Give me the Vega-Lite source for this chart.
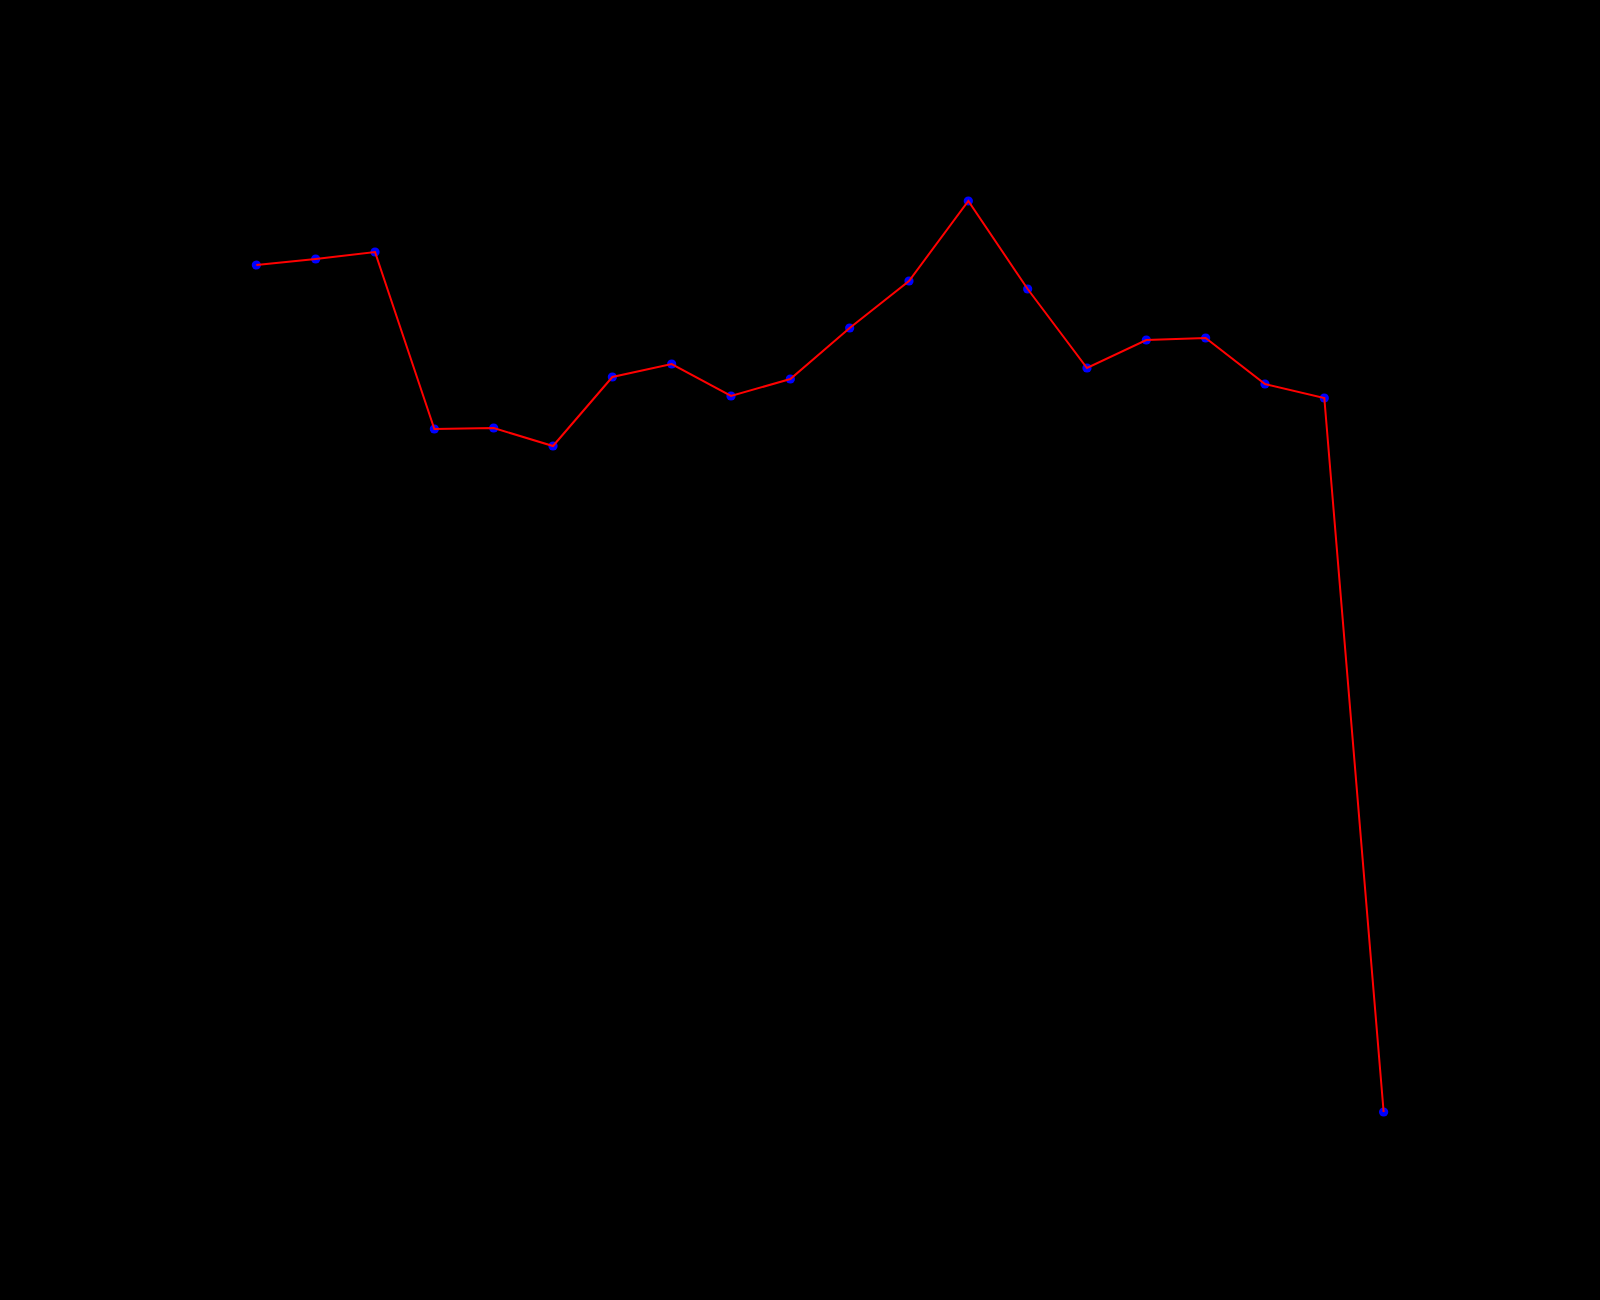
{
  "$schema": "https://vega.github.io/schema/vega-lite/v6.json",
  "autosize": "none",
  "width": 1240,
  "height": 1001,
  "padding": {"left": 200, "top": 156, "right": 160, "bottom": 143},
  "background": "black",
  "config": {
    "view": {"stroke": "black"},
    "axis": {"domainColor": "black", "tickColor": "black", "labelColor": "black", "titleColor": "black", "grid": false}
  },
  "data": {
    "values": [
      {"i": 1, "v": 89.2}, {"i": 2, "v": 89.8}, {"i": 3, "v": 90.5}, {"i": 4, "v": 72.8},
      {"i": 5, "v": 72.9}, {"i": 6, "v": 71.1}, {"i": 7, "v": 78.0}, {"i": 8, "v": 79.3},
      {"i": 9, "v": 76.1}, {"i": 10, "v": 77.8}, {"i": 11, "v": 82.9}, {"i": 12, "v": 87.6},
      {"i": 13, "v": 95.6}, {"i": 14, "v": 86.8}, {"i": 15, "v": 78.9}, {"i": 16, "v": 81.7},
      {"i": 17, "v": 81.9}, {"i": 18, "v": 77.3}, {"i": 19, "v": 75.9}, {"i": 20, "v": 4.5}
    ]
  },
  "encoding": {
    "x": {"field": "i", "type": "quantitative", "scale": {"domain": [0.05, 20.95], "nice": false, "zero": false}, "axis": {"title": null}},
    "y": {"field": "v", "type": "quantitative", "scale": {"domain": [0, 100.1], "nice": false}, "axis": {"title": null}}
  },
  "layer": [
    {"mark": {"type": "point", "filled": true, "color": "blue", "size": 85, "opacity": 1}},
    {"mark": {"type": "line", "color": "red", "strokeWidth": 2}}
  ]
}
